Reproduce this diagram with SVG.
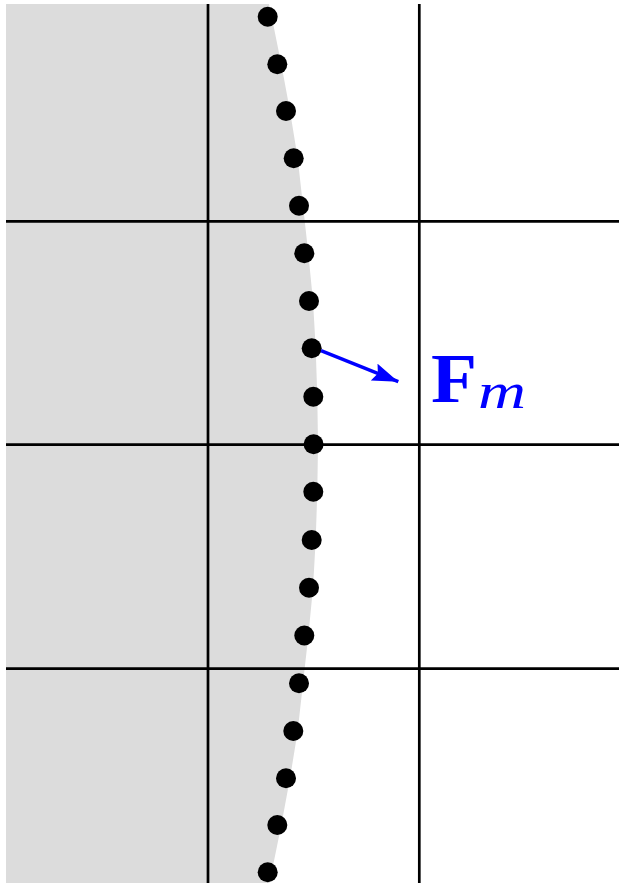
<svg xmlns="http://www.w3.org/2000/svg" width="619" height="883" viewBox="0 0 619 883">
  <style>
    .grid { stroke: #000; stroke-width: 2.7; fill: none; }
    .dot { fill: #000; }
    .force { stroke: #0000ff; stroke-width: 3.5; fill: none; }
    .lbl { fill: #0000ff; font-family: "Liberation Serif", "Times New Roman", serif; }
  </style>
  <defs>
    <marker id="ah" markerUnits="userSpaceOnUse" markerWidth="28" markerHeight="20" refX="26" refY="9" orient="auto">
      <path d="M0,0 L26,9 L0,18 L4,9 Z" fill="#0000ff"/>
    </marker>
  </defs>
  <rect x="0" y="0" width="619" height="883" fill="#ffffff"/>
  <g id="region">
    <path fill="#dcdcdc" d="M6,4 L269,4 L271.7,16.7 L281.3,64.3 L290,111 L297.7,158.3 L303,205.7 L308.3,253.3 L313,301 L315.7,348.3 L317.3,396.7 L318,444.6 L317.3,491.7 L315.7,540 L313,587.7 L308.3,636 L303,683.3 L297.7,731 L290,778.3 L281.3,825 L271.7,872.3 L269.5,883 L6,883 Z"/>
  </g>
  <g id="grid">
    <line class="grid" x1="208" y1="4" x2="208" y2="883"/>
    <line class="grid" x1="419.3" y1="4" x2="419.3" y2="883"/>
    <line class="grid" x1="6" y1="221.3" x2="619" y2="221.3"/>
    <line class="grid" x1="6" y1="444.7" x2="619" y2="444.7"/>
    <line class="grid" x1="6" y1="668.7" x2="619" y2="668.7"/>
  </g>
  <g id="markers">
    <g id="p0"><circle class="dot" cx="267.7" cy="16.7" r="10"/></g>
    <g id="p1"><circle class="dot" cx="277.3" cy="64.3" r="10"/></g>
    <g id="p2"><circle class="dot" cx="286" cy="111" r="10"/></g>
    <g id="p3"><circle class="dot" cx="293.7" cy="158.3" r="10"/></g>
    <g id="p4"><circle class="dot" cx="299" cy="205.7" r="10"/></g>
    <g id="p5"><circle class="dot" cx="304.3" cy="253.3" r="10"/></g>
    <g id="p6"><circle class="dot" cx="309" cy="301" r="10"/></g>
    <g id="p7"><circle class="dot" cx="311.7" cy="348.3" r="10"/></g>
    <g id="p8"><circle class="dot" cx="313.3" cy="396.7" r="10"/></g>
    <g id="p9"><circle class="dot" cx="313.6" cy="444.3" r="10"/></g>
    <g id="p10"><circle class="dot" cx="313.3" cy="491.7" r="10"/></g>
    <g id="p11"><circle class="dot" cx="311.7" cy="540" r="10"/></g>
    <g id="p12"><circle class="dot" cx="309" cy="587.7" r="10"/></g>
    <g id="p13"><circle class="dot" cx="304.3" cy="635.5" r="10"/></g>
    <g id="p14"><circle class="dot" cx="299" cy="683.3" r="10"/></g>
    <g id="p15"><circle class="dot" cx="293.3" cy="731" r="10"/></g>
    <g id="p16"><circle class="dot" cx="286" cy="778.3" r="10"/></g>
    <g id="p17"><circle class="dot" cx="277.3" cy="825" r="10"/></g>
    <g id="p18"><circle class="dot" cx="267.7" cy="872.3" r="10"/></g>
  </g>
  <g id="connectors">
    <line class="force" x1="321" y1="350.7" x2="398.3" y2="381.7" marker-end="url(#ah)"/>
  </g>
  <g id="label">
    <text class="lbl" x="431" y="401.7" font-size="70" font-weight="bold" textLength="46" lengthAdjust="spacingAndGlyphs">F</text>
    <text class="lbl" x="478" y="407.5" font-size="50" font-style="italic" textLength="48" lengthAdjust="spacingAndGlyphs">m</text>
  </g>
</svg>
